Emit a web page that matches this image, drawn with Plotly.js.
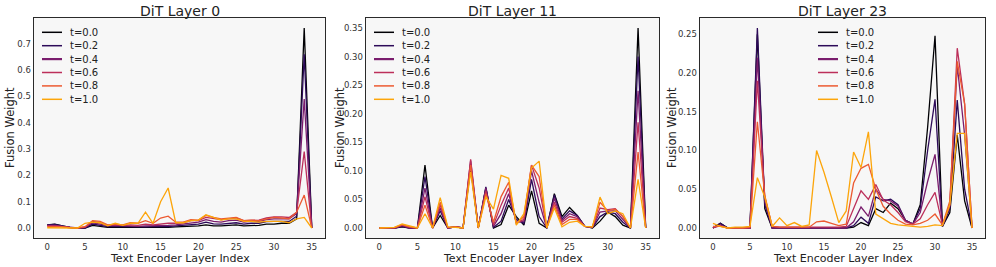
<!DOCTYPE html>
<html><head><meta charset="utf-8">
<script src="https://cdn.plot.ly/plotly-3.0.1.min.js"></script>
<style>html,body{margin:0;padding:0;background:#fff;}#chart{width:996px;height:267px;}</style>
</head><body><div id="chart"></div>
<script>
const layerIdx = Array.from({length: 36}, (_, i) => i);
const tLabels = ["t=0.0", "t=0.2", "t=0.4", "t=0.6", "t=0.8", "t=1.0"];
const lineColors = ["#000004", "#2d0b59", "#7a1d6d", "#bc2f5a", "#ec5a31", "#fca50a"];
const panelTitles = ["DiT Layer 0", "DiT Layer 11", "DiT Layer 23"];

// DiT Layer 0
const L0_t00 = [0.012,0.015,0.008,0.002,0,0,0.010,0.005,0.002,0.002,0.002,0.002,0.001,0.001,0.002,0.002,0.002,0.004,0.005,0.008,0.008,0.012,0.008,0.008,0.010,0.012,0.008,0.010,0.010,0.015,0.015,0.018,0.018,0.035,0.760,0];
const L0_t02 = [0.012,0.014,0.008,0.002,0,0,0.015,0.010,0.005,0.006,0.005,0.005,0.004,0.004,0.005,0.005,0.005,0.008,0.010,0.014,0.015,0.022,0.016,0.015,0.018,0.020,0.015,0.018,0.018,0.024,0.025,0.026,0.025,0.045,0.660,0];
const L0_t04 = [0.010,0.010,0.006,0.002,0,0.002,0.020,0.015,0.008,0.010,0.008,0.008,0.006,0.008,0.008,0.010,0.010,0.012,0.015,0.020,0.022,0.032,0.025,0.022,0.028,0.030,0.022,0.025,0.025,0.032,0.035,0.035,0.035,0.055,0.490,0];
const L0_t06 = [0.008,0.008,0.005,0.001,0,0.003,0.025,0.020,0.010,0.012,0.010,0.012,0.010,0.015,0.012,0.015,0.018,0.018,0.020,0.028,0.028,0.040,0.035,0.032,0.035,0.038,0.028,0.030,0.030,0.038,0.042,0.042,0.040,0.060,0.290,0];
const L0_t08 = [0.005,0.005,0.005,0.001,0,0.005,0.028,0.025,0.012,0.015,0.012,0.020,0.018,0.028,0.018,0.038,0.045,0.022,0.022,0.032,0.030,0.048,0.040,0.035,0.038,0.040,0.028,0.030,0.028,0.035,0.040,0.038,0.035,0.060,0.125,0];
const L0_t10 = [0.001,0.001,0.001,0.001,0,0.018,0.022,0.020,0.008,0.018,0.010,0.018,0.018,0.060,0.018,0.100,0.152,0.020,0.020,0.028,0.030,0.050,0.040,0.030,0.035,0.035,0.025,0.025,0.022,0.025,0.025,0.025,0.020,0.035,0.040,0];

// DiT Layer 11
const L11_t00 = [0,0,0,0.002,0,0,0.110,0,0.022,0,0.002,0,0.105,0,0.070,0,0.006,0.040,0.020,0.005,0.065,0.008,0,0.060,0.020,0.036,0.022,0.003,0,0.012,0.028,0.020,0.005,0,0.350,0];
const L11_t02 = [0,0,0,0.003,0,0,0.090,0,0.030,0,0.002,0,0.112,0,0.072,0.001,0.012,0.050,0.015,0.008,0.085,0.020,0,0.058,0.016,0.030,0.022,0.003,0.001,0.020,0.028,0.025,0.010,0,0.300,0];
const L11_t04 = [0,0,0,0.004,0,0,0.070,0,0.035,0,0.002,0,0.118,0,0.070,0.003,0.025,0.060,0.010,0.012,0.100,0.045,0,0.052,0.013,0.025,0.020,0.003,0.001,0.028,0.030,0.030,0.015,0,0.240,0];
const L11_t06 = [0,0,0,0.005,0.001,0,0.055,0,0.040,0,0.002,0,0.120,0,0.065,0.005,0.040,0.070,0.008,0.015,0.110,0.070,0,0.045,0.010,0.020,0.017,0.003,0.002,0.035,0.032,0.034,0.020,0,0.185,0];
const L11_t08 = [0,0.001,0.001,0.006,0.002,0,0.040,0,0.045,0.001,0.002,0,0.110,0,0.060,0.010,0.055,0.080,0.008,0.020,0.110,0.090,0,0.040,0.006,0.015,0.015,0.003,0.002,0.045,0.030,0.033,0.020,0,0.133,0];
const L11_t10 = [0,0.001,0.001,0.007,0.003,0,0.025,0,0.053,0.002,0.001,0,0.098,0,0.055,0.033,0.092,0.087,0.005,0.025,0.105,0.117,0,0.035,0.002,0.010,0.012,0.003,0.002,0.054,0.025,0.030,0.025,0,0.085,0];

// DiT Layer 23
const L23_t00 = [0,0.006,0,0,0,0,0.250,0.025,0,0,0,0,0,0,0,0,0,0,0,0.001,0.007,0.003,0.025,0.020,0.032,0.025,0.010,0.005,0.030,0.130,0.248,0.002,0.020,0.120,0.035,0];
const L23_t02 = [0,0.006,0,0,0,0,0.258,0.030,0,0,0,0,0,0,0,0,0,0,0,0.003,0.014,0.006,0.040,0.035,0.037,0.030,0.010,0.005,0.025,0.100,0.166,0.002,0.025,0.165,0.050,0];
const L23_t04 = [0,0.004,0,0,0,0,0.220,0.035,0,0,0,0,0,0,0,0,0,0,0,0.008,0.027,0.015,0.050,0.037,0.035,0.028,0.010,0.005,0.020,0.060,0.095,0.003,0.028,0.210,0.120,0];
const L23_t06 = [0,0.003,0,0,0,0,0.190,0.040,0.002,0.001,0.001,0.001,0.001,0.001,0.001,0.001,0.001,0.001,0.002,0.025,0.048,0.037,0.056,0.036,0.030,0.020,0.008,0.005,0.012,0.030,0.046,0.004,0.030,0.232,0.160,0];
const L23_t08 = [0.002,0.002,0,0,0,0.001,0.137,0.042,0.002,0.001,0.001,0.001,0.001,0.001,0.008,0.009,0.006,0.003,0.005,0.058,0.077,0.082,0.050,0.028,0.018,0.010,0.005,0.004,0.006,0.010,0.018,0.004,0.035,0.215,0.160,0];
const L23_t10 = [0.006,0.002,0,0.001,0.001,0.002,0.065,0.040,0.002,0.013,0.003,0.007,0.002,0.004,0.100,0.072,0.040,0.007,0.022,0.098,0.078,0.124,0.018,0.012,0.006,0.004,0.003,0.002,0.001,0.002,0.004,0.003,0.030,0.122,0.122,0];

const panels = [
  [L0_t00, L0_t02, L0_t04, L0_t06, L0_t08, L0_t10],
  [L11_t00, L11_t02, L11_t04, L11_t06, L11_t08, L11_t10],
  [L23_t00, L23_t02, L23_t04, L23_t06, L23_t08, L23_t10]
];
const yTicks = [
  [0, 0.1, 0.2, 0.3, 0.4, 0.5, 0.6, 0.7],
  [0, 0.05, 0.10, 0.15, 0.20, 0.25, 0.30, 0.35],
  [0, 0.05, 0.10, 0.15, 0.20, 0.25]
];
const yTickText = [
  ["0.0","0.1","0.2","0.3","0.4","0.5","0.6","0.7"],
  ["0.00","0.05","0.10","0.15","0.20","0.25","0.30","0.35"],
  ["0.00","0.05","0.10","0.15","0.20","0.25"]
];
const xTicks = [0, 5, 10, 15, 20, 25, 30, 35];
const xTitle = "Text Encoder Layer Index";
const yTitle = "Fusion Weight";

const W = 996, H = 267;
const plotBoxes = [[34, 325], [366, 659], [700, 985]];
const yTitleX = [10, 340, 672];
const legendX = [42, 374, 818];
const yTop = 18, yBot = 238;
const FONT = "DejaVu Sans, Liberation Sans, sans-serif";

const traces = [];
const layout = {
  width: W, height: H,
  margin: {l: 0, r: 0, t: 0, b: 0},
  paper_bgcolor: "#ffffff",
  showlegend: false,
  font: {family: FONT, color: "#222"},
  annotations: [],
  shapes: []
};

panels.forEach((series, p) => {
  const sfx = p === 0 ? "" : String(p + 1);
  let ymax = 0;
  series.forEach(s => s.forEach(v => { if (v > ymax) ymax = v; }));
  const pad = ymax * 0.05;
  series.forEach((vals, k) => {
    traces.push({
      x: layerIdx, y: vals, type: "scatter", mode: "lines",
      line: {color: lineColors[k], width: 1.3},
      xaxis: "x" + sfx, yaxis: "y" + sfx, hoverinfo: "skip"
    });
  });
  const [x0, x1] = plotBoxes[p];
  layout["xaxis" + sfx] = {
    domain: [x0 / W, x1 / W], anchor: "y" + sfx,
    range: [-1.75, 36.75], tickvals: xTicks, ticks: "", showgrid: false, zeroline: false,
    showline: true, mirror: true, linecolor: "#2a2a2a", linewidth: 1.4,
    tickfont: {size: 8.5, color: "#333"}, automargin: false
  };
  layout["yaxis" + sfx] = {
    domain: [1 - yBot / H, 1 - yTop / H], anchor: "x" + sfx,
    range: [-pad, ymax + pad], tickvals: yTicks[p], ticktext: yTickText[p], ticks: "",
    showgrid: false, zeroline: false,
    showline: true, mirror: true, linecolor: "#2a2a2a", linewidth: 1.4,
    tickfont: {size: 8.5, color: "#333"}, automargin: false
  };
  layout.shapes.push({type: "rect", xref: "paper", yref: "paper", layer: "below",
    x0: x0 / W, x1: x1 / W, y0: 1 - yBot / H, y1: 1 - yTop / H,
    fillcolor: "#f7f7f7", line: {width: 0}});
  layout.annotations.push({text: panelTitles[p], xref: "paper", yref: "paper",
    x: (x0 + x1) / 2 / W, y: 1 - 11 / H, xanchor: "center", yanchor: "middle",
    showarrow: false, font: {size: 14, color: "#222"}});
  layout.annotations.push({text: xTitle, xref: "paper", yref: "paper",
    x: (x0 + x1) / 2 / W, y: 1 - 258 / H, xanchor: "center", yanchor: "middle",
    showarrow: false, font: {size: 11, color: "#222"}});
  layout.annotations.push({text: yTitle, xref: "paper", yref: "paper", textangle: -90,
    x: yTitleX[p] / W, y: 1 - ((yTop + yBot) / 2) / H, xanchor: "center", yanchor: "middle",
    showarrow: false, font: {size: 11.5, color: "#222"}});
  const legX = legendX[p];
  const legTop = 32.3;
  tLabels.forEach((lab, k) => {
    const yy = 1 - (legTop + k * 13.4) / H;
    layout.shapes.push({type: "line", xref: "paper", yref: "paper",
      x0: legX / W, x1: (legX + 20) / W, y0: yy, y1: yy,
      line: {color: lineColors[k], width: k === 2 ? 2.2 : 1.5}});
    layout.annotations.push({text: lab, xref: "paper", yref: "paper",
      x: (legX + 26) / W, y: yy, xanchor: "left", yanchor: "middle",
      showarrow: false, font: {size: 10, color: "#222"}});
  });
});

Plotly.newPlot("chart", traces, layout, {displayModeBar: false, staticPlot: true});
</script></body></html>
